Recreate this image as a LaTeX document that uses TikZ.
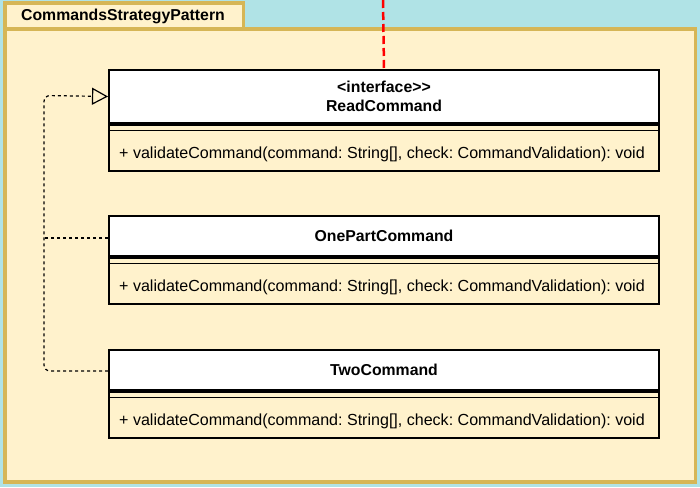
\documentclass[tikz,border=0pt]{standalone}
\usepackage{fontspec}
\setmainfont{Liberation Sans}
\usetikzlibrary{calc,arrows.meta}
\definecolor{bgc}{HTML}{B0E3E6}
\definecolor{pkgfill}{HTML}{FFF2CC}
\definecolor{pkgline}{HTML}{D6B656}
\frenchspacing
\begin{document}
\begin{tikzpicture}[x=1pt,y=-1pt,
  pkg/.style={draw=pkgline,fill=pkgfill,line width=3.5pt},
  hdr/.style={draw=black,fill=white,line width=2pt,minimum width=550pt,inner sep=0pt,anchor=north west,align=center,font=\bfseries\fontsize{15.8}{19}\selectfont},
  body/.style={draw=black,line width=2pt,minimum width=550pt,minimum height=46pt,inner sep=0pt,anchor=north west},
  sep/.style={draw=black,line width=1pt},
  meth/.style={anchor=base west,inner sep=0pt,font=\fontsize{16.05}{17}\selectfont},
  dep/.style={draw=black,line width=1.2pt,dash pattern=on 3pt off 3pt},
  ttl/.style={font=\bfseries\fontsize{15.8}{17}\selectfont,inner sep=0pt}
]
\useasboundingbox (0,0) rectangle (700,487);
\fill[bgc] (0,0) rectangle (700,487);
\draw[pkg] (5,3) rectangle (243.5,29);
\draw[pkg] (5,29) rectangle (695.5,482);
\node[ttl] (title) at (123,16) {CommandsStrategyPattern};

% ReadCommand
\node[hdr,minimum height=53pt] (read) at (108,69) {<interface>{}>\\ReadCommand};
\node[body] (readb) at (read.south west) {};
\draw[sep] ($(readb.north west)+(0,6)$) -- ($(readb.north east)+(0,6)$);
\node[meth] (readm) at ($(readb.north west)+(11,34)$) {+ validateCommand(command: String[], check: CommandValidation): void};

% OnePartCommand
\node[hdr,minimum height=40pt] (onepart) at (108,215) {OnePartCommand};
\node[body] (oneb) at (onepart.south west) {};
\draw[sep] ($(oneb.north west)+(0,6)$) -- ($(oneb.north east)+(0,6)$);
\node[meth] (onem) at ($(oneb.north west)+(11,34)$) {+ validateCommand(command: String[], check: CommandValidation): void};

% TwoCommand
\node[hdr,minimum height=40pt] (two) at (108,349) {TwoCommand};
\node[body] (twob) at (two.south west) {};
\draw[sep] ($(twob.north west)+(0,6)$) -- ($(twob.north east)+(0,6)$);
\node[meth] (twom) at ($(twob.north west)+(11,34)$) {+ validateCommand(command: String[], check: CommandValidation): void};

% connectors
\coordinate (topend) at (383,0);
\draw[red,line width=2.5pt,dash pattern=on 8pt off 4pt] (topend) -- (read.north);
\coordinate (bend) at (44,238);
\draw[dep] ($(onepart.north west)+(0,23)$) -- (bend);
\draw[dep,rounded corners=6pt,-{Triangle[open,length=16pt,width=17pt,line width=1.2pt]}]
  ($(two.north west)+(0,22)$) -- (44,371) -- (44,95.5) -- (read.west);
\end{tikzpicture}
\end{document}
